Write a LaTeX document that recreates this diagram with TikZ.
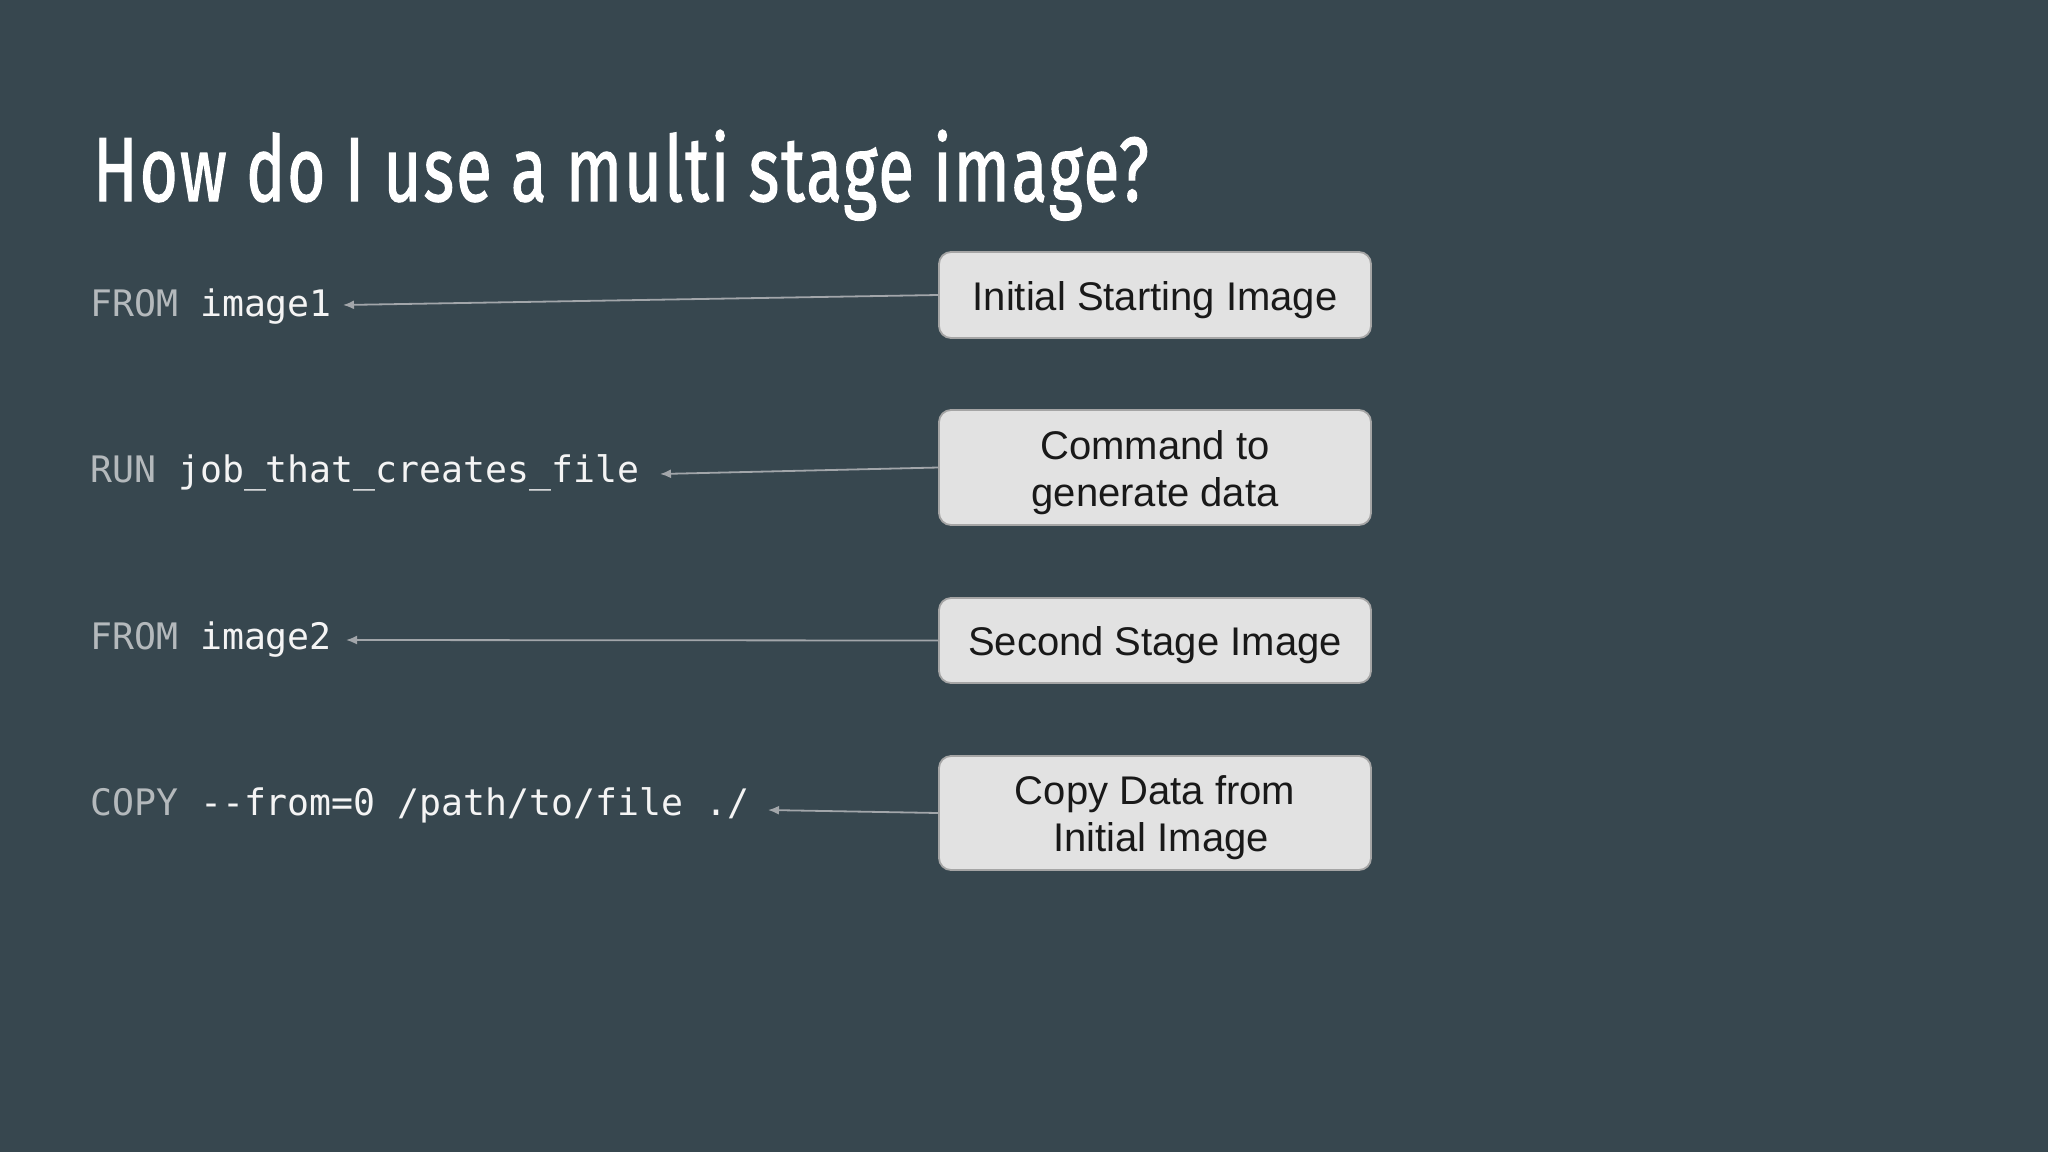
\documentclass[tikz,border=0pt]{standalone}
\usepackage{fontspec}
\usepackage{graphicx}
\setmainfont{Liberation Sans}
\newfontfamily\titlefont[FakeBold=1.5, LetterSpace=3]{Fira Sans}
\newfontfamily\codefont{DejaVu Sans Mono}
\usetikzlibrary{arrows.meta}
\definecolor{bgcol}{HTML}{37474F}
\definecolor{boxfill}{HTML}{E2E2E2}
\definecolor{boxline}{HTML}{A5A5A5}
\definecolor{arrcol}{HTML}{A2A6AA}
\definecolor{kwcol}{HTML}{B4B9BC}
\definecolor{codecol}{HTML}{F4F4F4}
\tikzset{
  stagebox/.style={draw=boxline, line width=1.8pt, fill=boxfill, rounded corners=12pt,
    minimum width=432pt, inner sep=0pt},
  boxtext/.style={inner sep=0pt, align=center, text=black!90,
    font=\fontsize{40}{47}\selectfont},
  codeline/.style={anchor=base west, inner sep=0pt, text=codecol,
    font=\codefont\fontsize{36.5}{40}\selectfont},
  arr/.style={draw=arrcol, line width=1.8pt, -{Latex[length=11pt,width=9pt]}}
}
\newcommand{\kwd}[1]{\textcolor{kwcol}{#1}}
\begin{document}
\begin{tikzpicture}[x=1pt,y=-1pt]
\useasboundingbox (0,0) rectangle (2048,1152);
\fill[bgcol] (0,0) rectangle (2048,1152);

\node[anchor=base west, inner sep=0pt, text=white] (title) at (93,201)
  {\resizebox{1055pt}{71pt}{\titlefont How do I use a multi stage image?}};

\node[codeline] (c1) at (90,316) {\kwd{FROM} image1};
\node[codeline] (c2) at (90,482) {\kwd{RUN} job\_that\_creates\_file};
\node[codeline] (c3) at (90,649) {\kwd{FROM} image2};
\node[codeline] (c4) at (90,815) {\kwd{COPY} -{}-from=0 /path/to/file ./};

\node[stagebox, minimum height=86pt]  (b1) at (1155,295)   {};
\node[stagebox, minimum height=115pt] (b2) at (1155,467.5) {};
\node[stagebox, minimum height=85pt]  (b3) at (1155,640.5) {};
\node[stagebox, minimum height=114pt] (b4) at (1155,813)   {};

\node[boxtext] (l1) at ([yshift=-5pt]b1.center) {Initial Starting Image};
\node[boxtext] (l2) at ([yshift=-5pt]b2.center) {Command to\\generate data};
\node[boxtext] (l3) at ([yshift=-5pt]b3.center) {Second Stage Image};
\node[boxtext] (l4) at ([yshift=-5pt]b4.center) {Copy Data from\\\hspace*{12pt}Initial Image};

\coordinate (t1) at (343,305);
\coordinate (t2) at (660,474);
\coordinate (t3) at (346,640);
\coordinate (t4) at (768,810);

\draw[arr] (b1.west) -- (t1);
\draw[arr] (b2.west) -- (t2);
\draw[arr] (b3.west) -- (t3);
\draw[arr] (b4.west) -- (t4);
\end{tikzpicture}
\end{document}
